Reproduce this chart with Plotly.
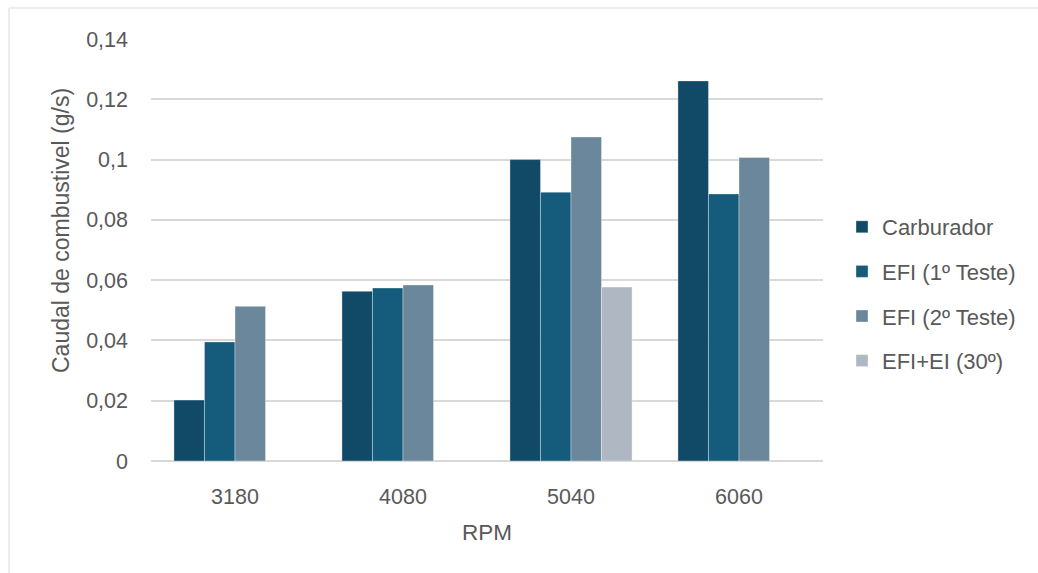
import plotly.graph_objects as go

# RPM categories and measured fuel flow (g/s)
rpm = ["3180", "4080", "5040", "6060"]
carburador = [0.0202, 0.0563, 0.1000, 0.1261]
efi_teste1 = [0.0395, 0.0574, 0.0892, 0.0886]
efi_teste2 = [0.0513, 0.0584, 0.1075, 0.1007]
efi_ei_30 = [None, None, 0.0577, None]

y_tickvals = [0, 0.02, 0.04, 0.06, 0.08, 0.10, 0.12, 0.14]
y_ticktext = ["0", "0,02", "0,04", "0,06", "0,08", "0,1", "0,12", "0,14"]

series = [
    ("Carburador", carburador, "#114a67"),
    ("EFI (1º Teste)", efi_teste1, "#155b7b"),
    ("EFI (2º Teste)", efi_teste2, "#6b879c"),
    ("EFI+EI (30º)", efi_ei_30, "#afb8c2"),
]

FONT = "Liberation Sans, Arial, sans-serif"
TXT = "#595959"

fig = go.Figure()
for i, (name, vals, color) in enumerate(series):
    fig.add_trace(go.Bar(
        x=rpm, y=vals, name=name, legendgroup=f"g{i}",
        marker=dict(color=color, line=dict(color="rgba(255,255,255,0.35)", width=1)),
    ))

W, H = 1038, 573
L, R, T, B = 151, 215, 39, 112
pw, ph = W - L - R, H - T - B

def px_x(x):
    return (x - L) / pw

def px_y(y):
    return (H - B - y) / ph

fig.update_layout(
    width=W, height=H,
    margin=dict(l=L, r=R, t=T, b=B, pad=0),
    paper_bgcolor="white", plot_bgcolor="white",
    barmode="group", bargap=0.273, bargroupgap=0,
    font=dict(family=FONT, color=TXT, size=21),
    legend=dict(
        x=px_x(842), xanchor="left", y=px_y(294), yanchor="middle",
        font=dict(size=22, color=TXT), traceorder="grouped",
        tracegroupgap=13, bgcolor="rgba(0,0,0,0)",
    ),
    xaxis=dict(
        showgrid=False, showline=False, ticks="", zeroline=False,
        tickfont=dict(size=21.5, color=TXT), ticklabelstandoff=20,
        title=dict(text="RPM", font=dict(size=22.5, color=TXT), standoff=16),
    ),
    yaxis=dict(
        range=[0, 0.14], tickvals=y_tickvals, ticktext=y_ticktext,
        showgrid=True, gridcolor="#d9d9d9", gridwidth=1.5,
        zeroline=True, zerolinecolor="#d9d9d9", zerolinewidth=1.5,
        showline=False, ticks="",
        tickfont=dict(size=21.5, color=TXT), ticklabelstandoff=22,
    ),
    annotations=[dict(
        text="Caudal de combustivel (g/s)", textangle=-90,
        xref="paper", yref="paper", x=px_x(61), y=px_y(231),
        xanchor="center", yanchor="middle", showarrow=False,
        font=dict(size=23, color=TXT),
    )],
    shapes=[dict(
        type="rect", xref="paper", yref="paper",
        x0=px_x(9), x1=px_x(1045), y0=px_y(580), y1=px_y(8),
        line=dict(color="#d9d9d9", width=1), fillcolor="rgba(0,0,0,0)", layer="below",
    )],
)

fig.write_html("out.html")
